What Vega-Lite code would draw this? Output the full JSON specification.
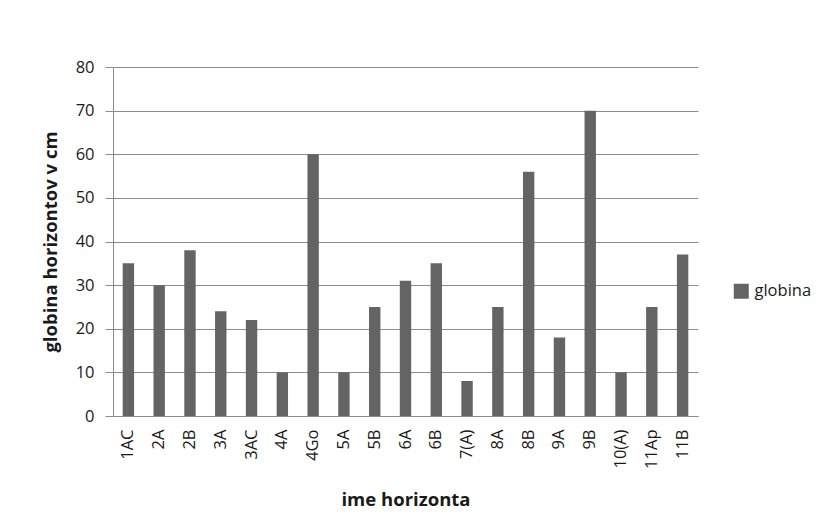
{
  "$schema": "https://vega.github.io/schema/vega-lite/v6.json",
  "autosize": "none",
  "width": 585,
  "height": 349,
  "padding": {"left": 113, "top": 67, "right": 124, "bottom": 106},
  "background": "white",
  "config": {
    "font": "Open Sans",
    "view": {"stroke": null},
    "axis": {
      "labelFont": "Open Sans",
      "titleFont": "Open Sans",
      "labelColor": "#1a1a1a",
      "titleColor": "#1a1a1a",
      "labelFontSize": 16.5,
      "titleFontSize": 18.5,
      "titleFontWeight": "bold",
      "domainColor": "#8c8c8c",
      "tickColor": "#8c8c8c",
      "gridColor": "#8c8c8c",
      "gridWidth": 1,
      "domainWidth": 1
    },
    "legend": {
      "labelFont": "Open Sans",
      "labelFontSize": 16.5,
      "labelColor": "#1a1a1a"
    }
  },
  "data": {
    "values": [
      {"horizont": "1AC", "globina": 35},
      {"horizont": "2A", "globina": 30},
      {"horizont": "2B", "globina": 38},
      {"horizont": "3A", "globina": 24},
      {"horizont": "3AC", "globina": 22},
      {"horizont": "4A", "globina": 10},
      {"horizont": "4Go", "globina": 60},
      {"horizont": "5A", "globina": 10},
      {"horizont": "5B", "globina": 25},
      {"horizont": "6A", "globina": 31},
      {"horizont": "6B", "globina": 35},
      {"horizont": "7(A)", "globina": 8},
      {"horizont": "8A", "globina": 25},
      {"horizont": "8B", "globina": 56},
      {"horizont": "9A", "globina": 18},
      {"horizont": "9B", "globina": 70},
      {"horizont": "10(A)", "globina": 10},
      {"horizont": "11Ap", "globina": 25},
      {"horizont": "11B", "globina": 37}
    ]
  },
  "transform": [{"calculate": "'globina'", "as": "serija"}],
  "mark": {"type": "bar"},
  "encoding": {
    "x": {
      "field": "horizont",
      "type": "nominal",
      "sort": null,
      "scale": {"paddingInner": 0.63, "paddingOuter": 0.315},
      "axis": {
        "title": "ime horizonta",
        "labelAngle": -90,
        "labelAlign": "right",
        "labelBaseline": "middle",
        "labelPadding": 13,
        "ticks": false,
        "titlePadding": 22
      }
    },
    "y": {
      "field": "globina",
      "type": "quantitative",
      "scale": {"domain": [0, 80], "nice": false},
      "axis": {
        "title": "globina horizontov v cm",
        "values": [0, 10, 20, 30, 40, 50, 60, 70, 80],
        "tickSize": 8,
        "labelPadding": 11,
        "titlePadding": 15
      }
    },
    "color": {
      "field": "serija",
      "type": "nominal",
      "scale": {"range": ["#646464"]},
      "legend": {
        "title": null,
        "orient": "none",
        "legendX": 620,
        "legendY": 216,
        "symbolType": "square",
        "symbolSize": 225,
        "symbolStrokeWidth": 0,
        "symbolOpacity": 1,
        "labelOffset": 5
      }
    }
  }
}
